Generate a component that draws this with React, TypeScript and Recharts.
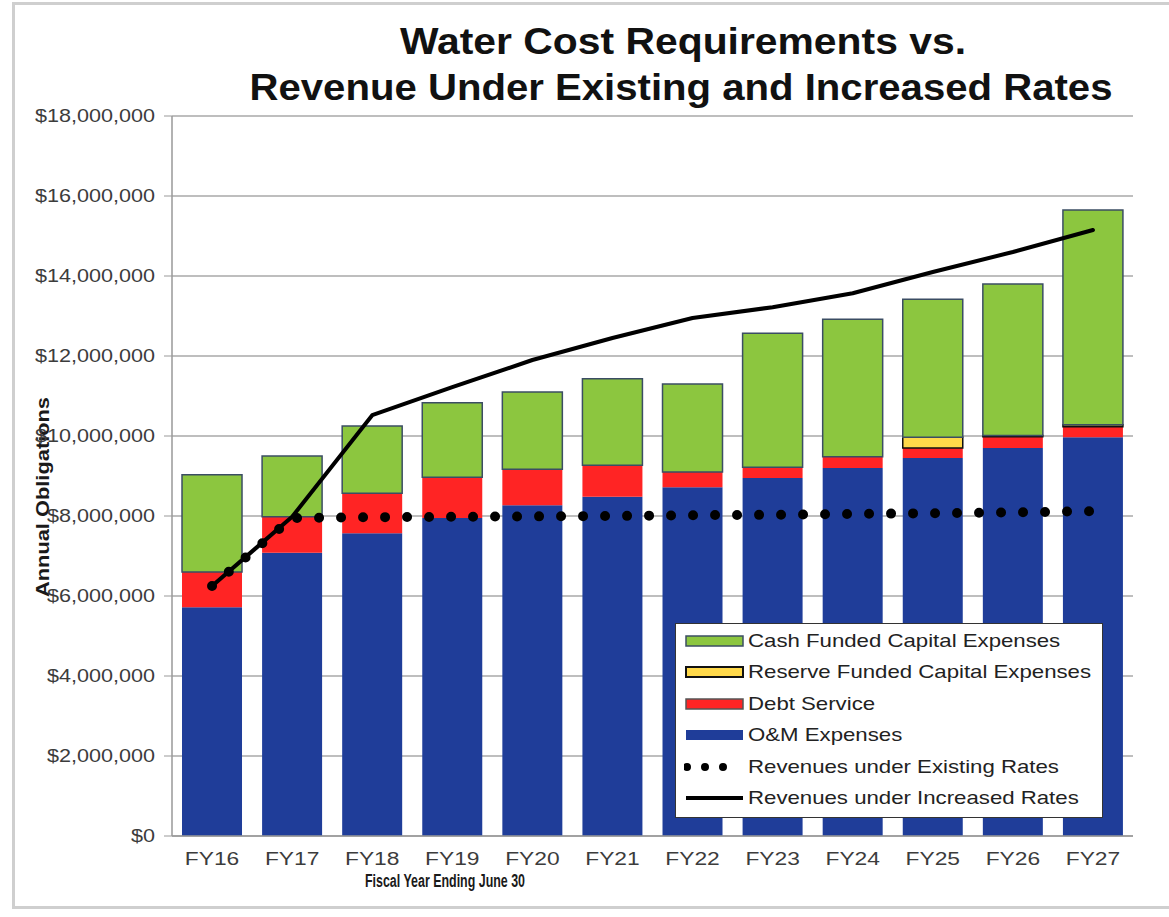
import React from 'react';
import { ComposedChart, Bar, Line, XAxis, YAxis, CartesianGrid, Legend } from 'recharts';

// values in millions of dollars
const years = ['FY16', 'FY17', 'FY18', 'FY19', 'FY20', 'FY21', 'FY22', 'FY23', 'FY24', 'FY25', 'FY26', 'FY27'];
const omExpenses = [5.72, 7.08, 7.57, 7.95, 8.27, 8.48, 8.72, 8.95, 9.2, 9.45, 9.7, 9.97];
const debtService = [0.88, 0.9, 1.0, 1.02, 0.9, 0.79, 0.38, 0.27, 0.28, 0.25, 0.28, 0.26];
const reserveFunded = [0, 0, 0, 0, 0, 0, 0, 0, 0, 0.27, 0.03, 0.05];
const cashFunded = [2.43, 1.52, 1.68, 1.86, 1.93, 2.16, 2.2, 3.35, 3.44, 3.45, 3.79, 5.37];
const revenueExisting = [6.25, 7.95, 7.97, 7.98, 7.99, 8.0, 8.02, 8.03, 8.05, 8.07, 8.09, 8.12];
const revenueIncreased = [6.25, 7.98, 10.52, 11.22, 11.9, 12.45, 12.95, 13.22, 13.57, 14.1, 14.6, 15.15];
const yTicks = [0, 2, 4, 6, 8, 10, 12, 14, 16, 18];

const M = 1000000;
const data = years.map((year, i) => ({
  year,
  om: omExpenses[i] * M,
  debt: debtService[i] * M,
  reserve: reserveFunded[i] * M,
  cash: cashFunded[i] * M,
  existing: revenueExisting[i] * M,
  increased: revenueIncreased[i] * M,
}));

const FONT = '"Liberation Sans", Arial, sans-serif';
const NARROW = '"Liberation Sans Narrow", "Arial Narrow", "Liberation Sans", Arial, sans-serif';

const BLUE = '#1f3d99';
const RED = '#ff2424';
const YELLOW = '#ffd94a';
const GREEN = '#8cc63f';
const GREEN_EDGE = '#3b4d63';

const YTick = (props: any) => {
  const { x, y, payload } = props;
  return (
    <text
      transform={`translate(${x},${y}) scale(1.2,1)`}
      textAnchor="end"
      dy="0.36em"
      fontSize={18}
      fill="#3c3c3c"
      fontFamily={FONT}
    >
      {'$' + payload.value.toLocaleString('en-US')}
    </text>
  );
};

const XTick = (props: any) => {
  const { x, y, payload } = props;
  return (
    <text
      transform={`translate(${x},${y + 29}) scale(1.2,1)`}
      textAnchor="middle"
      fontSize={19}
      fill="#3c3c3c"
      fontFamily={FONT}
    >
      {payload.value}
    </text>
  );
};

const legendLabels = [
  'Cash Funded Capital Expenses',
  'Reserve Funded Capital Expenses',
  'Debt Service',
  'O&M Expenses',
  'Revenues under Existing Rates',
  'Revenues under Increased Rates',
];

const swatch = (i: number) => {
  if (i === 0) return <rect x={2} y={2} width={57} height={10} fill={GREEN} stroke={GREEN_EDGE} strokeWidth={1.5} />;
  if (i === 1) return <rect x={2} y={2} width={57} height={10} fill={YELLOW} stroke="#111" strokeWidth={2} />;
  if (i === 2) return <rect x={2} y={2} width={57} height={10} fill={RED} stroke="#555" strokeWidth={1.5} />;
  if (i === 3) return <rect x={2} y={2} width={57} height={10} fill={BLUE} />;
  if (i === 4)
    return (
      <line x1={3} y1={7} x2={57} y2={7} stroke="#000" strokeWidth={8} strokeDasharray="0 18" strokeLinecap="round" />
    );
  return <line x1={2} y1={7} x2={59} y2={7} stroke="#000" strokeWidth={4} />;
};

const renderLegend = () => (
  <div
    style={{
      width: 428,
      height: 195,
      boxSizing: 'border-box',
      border: '1.5px solid #333',
      background: '#fff',
      paddingTop: 1,
    }}
  >
    {legendLabels.map((label, i) => (
      <div key={label} style={{ display: 'flex', alignItems: 'center', height: 31.5 }}>
        <svg width={64} height={14} style={{ marginLeft: 8, flex: 'none' }}>
          {swatch(i)}
        </svg>
        <span
          style={{
            fontFamily: FONT,
            fontSize: 18.5,
            color: '#222',
            display: 'inline-block',
            whiteSpace: 'nowrap',
            transform: 'scaleX(1.2)',
            transformOrigin: 'left center',
          }}
        >
          {label}
        </span>
      </div>
    ))}
  </div>
);

export default function App() {
  return (
    <div style={{ position: 'absolute', left: 0, top: 0, width: 1169, height: 917, overflow: 'hidden', background: '#fff' }}>
      <div
        style={{
          position: 'absolute',
          left: 12,
          top: 2,
          width: 1180,
          height: 901,
          borderLeft: '3px solid #cfcfcf',
          borderTop: '3px solid #cfcfcf',
          borderBottom: '3px solid #cfcfcf',
        }}
      />
      <svg width={1169} height={115} style={{ position: 'absolute', left: 0, top: 0 }}>
        <text
          x={683}
          y={54}
          textAnchor="middle"
          fontFamily={NARROW}
          fontWeight="bold"
          fontSize={36}
          fill="#111"
          textLength={566}
          lengthAdjust="spacingAndGlyphs"
        >
          Water Cost Requirements vs.
        </text>
        <text
          x={681}
          y={100}
          textAnchor="middle"
          fontFamily={NARROW}
          fontWeight="bold"
          fontSize={36}
          fill="#111"
          textLength={863}
          lengthAdjust="spacingAndGlyphs"
        >
          Revenue Under Existing and Increased Rates
        </text>
      </svg>
      <div style={{ position: 'absolute', left: 0, top: 0 }}>
        <ComposedChart
          width={1169}
          height={917}
          data={data}
          barCategoryGap="12.5%"
          margin={{ top: 116, right: 36, bottom: 31, left: 22 }}
        >
          <CartesianGrid vertical={false} stroke="#a8a8a8" strokeWidth={1.5} />
          <XAxis
            dataKey="year"
            height={50}
            tick={<XTick />}
            tickLine={false}
            tickSize={0}
            tickMargin={0}
            axisLine={{ stroke: '#999', strokeWidth: 1.5 }}
            label={() => (
              <text
                x={445}
                y={887}
                textAnchor="middle"
                fontSize={18}
                fontWeight="bold"
                fill="#1a1a1a"
                fontFamily={NARROW}
                textLength={160}
                lengthAdjust="spacingAndGlyphs"
              >
                Fiscal Year Ending June 30
              </text>
            )}
          />
          <YAxis
            width={150}
            domain={[0, 18 * M]}
            ticks={yTicks.map((t) => t * M)}
            interval={0}
            tick={<YTick />}
            tickSize={8}
            tickMargin={9}
            tickLine={{ stroke: '#999' }}
            axisLine={{ stroke: '#999', strokeWidth: 1.5 }}
            label={() => (
              <text
                transform="translate(49,497) rotate(-90)"
                textAnchor="middle"
                fontSize={19}
                fontWeight="bold"
                fill="#1a1a1a"
                fontFamily={NARROW}
                textLength={200}
                lengthAdjust="spacingAndGlyphs"
              >
                Annual Obligations
              </text>
            )}
          />
          <Legend
            layout="horizontal"
            verticalAlign="middle"
            align="center"
            content={renderLegend}
            wrapperStyle={{ position: 'absolute', left: 675, top: 623, width: 428, height: 195 }}
          />
          <Bar dataKey="om" stackId="a" fill={BLUE} isAnimationActive={false} />
          <Bar dataKey="debt" stackId="a" fill={RED} isAnimationActive={false} />
          <Bar dataKey="reserve" stackId="a" fill={YELLOW} stroke="#111" strokeWidth={1.5} isAnimationActive={false} />
          <Bar dataKey="cash" stackId="a" fill={GREEN} stroke={GREEN_EDGE} strokeWidth={1.5} isAnimationActive={false} />
          <Line
            type="linear"
            dataKey="existing"
            stroke="#000"
            strokeWidth={10}
            strokeDasharray="0 22"
            strokeLinecap="round"
            dot={false}
            activeDot={false}
            isAnimationActive={false}
          />
          <Line
            type="linear"
            dataKey="increased"
            stroke="#000"
            strokeWidth={4}
            strokeLinecap="round"
            strokeLinejoin="round"
            dot={false}
            activeDot={false}
            isAnimationActive={false}
          />
        </ComposedChart>
      </div>
    </div>
  );
}
